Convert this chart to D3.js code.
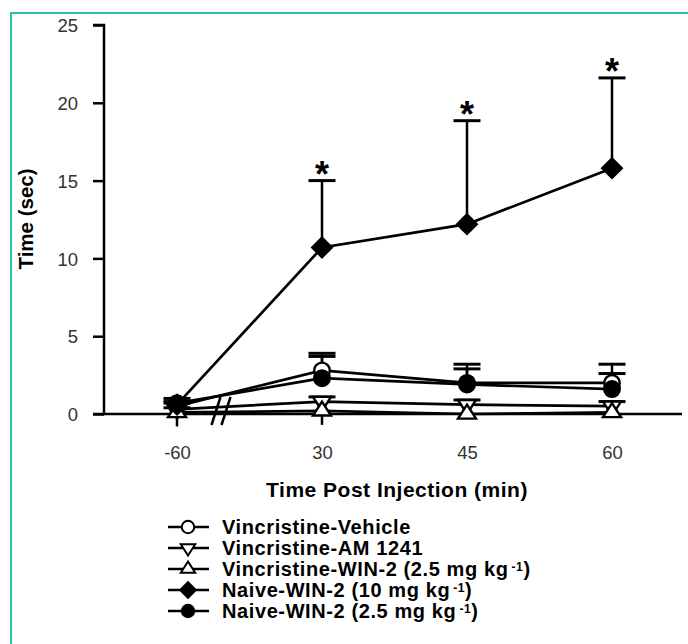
<!DOCTYPE html>
<html><head><meta charset="utf-8">
<script src="https://cdn.jsdelivr.net/npm/d3@7"></script>
<style>body{margin:0;background:#fff}svg{display:block;font-family:"Liberation Sans",Arial,sans-serif}</style>
</head><body>
<svg id="c" width="688" height="644"></svg>
<script>
const categories = ["-60", "30", "45", "60"];
const yTicks = [0, 5, 10, 15, 20, 25];
const seriesNames = ["Vincristine-Vehicle", "Vincristine-AM 1241", "Vincristine-WIN-2 (2.5 mg kg", "Naive-WIN-2 (10 mg kg", "Naive-WIN-2 (2.5 mg kg"];
const superscripts = ["", "", "-1", "-1", "-1"];
const vehicle = [0.5, 2.8, 2.0, 2.0];
const vehicleErr = [0.2, 1.1, 1.2, 1.2];
const am1241 = [0.3, 0.8, 0.6, 0.5];
const am1241Err = [0.1, 0.3, 0.3, 0.3];
const win25Vinc = [0.1, 0.2, 0.0, 0.1];
const win25VincErr = [-0.9, -0.9, 0.0, -0.3];
const naive10 = [0.6, 10.7, 12.2, 15.8];
const naive10Err = [0.2, 4.3, 6.65, 5.8];
const naive25 = [0.7, 2.3, 1.9, 1.6];
const naive25Err = [0.3, 1.4, 1.0, 1.0];
const significant = [false, true, true, true];

const svg = d3.select("#c");
svg.append("rect").attr("x", 11).attr("y", 13).attr("width", 700).attr("height", 700)
  .attr("fill", "none").attr("stroke", "#2fbfa8").attr("stroke-width", 2);

const x = d3.scalePoint().domain(categories).range([177, 612]);
const y = d3.scaleLinear().domain([0, 25]).range([414, 25]);

// y axis
const ya = svg.append("g").attr("transform", "translate(104,0)")
  .call(d3.axisLeft(y).tickValues(yTicks).tickSize(11).tickPadding(15));
ya.select(".domain").attr("stroke-width", 2.5).attr("d", `M-11,${y(25)}H0V${y(0)}`);
ya.selectAll(".tick line").attr("stroke-width", 2.5);
ya.selectAll(".tick text").attr("font-size", 18.5).attr("fill", "#333").attr("font-family", "Liberation Sans, Arial").attr("dy", "0.36em");

// x axis
const xa = svg.append("g").attr("transform", `translate(0,${y(0)})`)
  .call(d3.axisBottom(x).tickSize(0).tickPadding(32));
xa.select(".domain").attr("stroke-width", 2.5).attr("d", "M93,0H682");
xa.selectAll(".tick text").attr("font-size", 18.5).attr("fill", "#333").attr("font-family", "Liberation Sans, Arial");

// axis titles
svg.append("text").attr("x", 397).attr("y", 497).attr("text-anchor", "middle")
  .attr("font-size", 21).attr("letter-spacing", 0.5).attr("font-weight", "bold").text("Time Post Injection (min)");
svg.append("text").attr("transform", "translate(33,219) rotate(-90)").attr("text-anchor", "middle")
  .attr("font-size", 20.5).attr("font-weight", "bold").text("Time (sec)");

const series = [
  {vals: vehicle, err: vehicleErr, sym: "circle", fill: "#fff"},
  {vals: am1241, err: am1241Err, sym: "down", fill: "#fff"},
  {vals: win25Vinc, err: win25VincErr, sym: "up", fill: "#fff"},
  {vals: naive10, err: naive10Err, sym: "diamond", fill: "#000"},
  {vals: naive25, err: naive25Err, sym: "circle", fill: "#000"}
];

function symPath(s, k) {
  if (s === "circle") return d3.symbol(d3.symbolCircle, 190 * k * k)();
  if (s === "up" || s === "down") {
    const w = 9 * k, h = 14 * k;
    return `M0,${-h * 2 / 3}L${w},${h / 3}L${-w},${h / 3}Z`;
  }
  return d3.symbol(d3.symbolSquare, 190 * k * k)();
}
function symRot(s) { return s === "down" ? 180 : (s === "diamond" ? 45 : 0); }

const line = d3.line().x((d, i) => x(categories[i])).y(d => y(d));

series.forEach(s => {
  svg.append("path").attr("d", line(s.vals)).attr("fill", "none")
    .attr("stroke", "#000").attr("stroke-width", 2.7);
});
series.forEach(s => {
  s.vals.forEach((v, i) => {
    if (!s.err[i]) return;
    const cx = x(categories[i]);
    const top = y(v + s.err[i]);
    svg.append("line").attr("x1", cx).attr("x2", cx).attr("y1", y(v)).attr("y2", top)
      .attr("stroke", "#000").attr("stroke-width", 2.5);
    if (s.err[i] > 0) {
      svg.append("line").attr("x1", cx - 13.5).attr("x2", cx + 13.5).attr("y1", top).attr("y2", top)
        .attr("stroke", "#000").attr("stroke-width", 3);
    }
  });
});
series.forEach(s => {
  s.vals.forEach((v, i) => {
    svg.append("path").attr("d", symPath(s.sym, 1))
      .attr("transform", `translate(${x(categories[i])},${y(v)}) rotate(${symRot(s.sym)})`)
      .attr("fill", s.fill).attr("stroke", "#000").attr("stroke-width", 2.4);
  });
});
naive10.forEach((v, i) => {
  if (!significant[i]) return;
  svg.append("text").attr("x", x(categories[i])).attr("y", y(v + naive10Err[i]) + 6)
    .attr("text-anchor", "middle").attr("font-size", 36).attr("font-weight", "bold").text("*");
});

// axis break marks
const bx = x(categories[0]) + 0.3 * x.step();
[-5, 5].forEach(o => {
  svg.append("line").attr("x1", bx + o + 5).attr("y1", y(0) - 17).attr("x2", bx + o - 4).attr("y2", y(0) + 11)
    .attr("stroke", "#000").attr("stroke-width", 2.5);
});

// legend
const lg = svg.append("g");
series.forEach((s, i) => {
  const ly = 527 + i * 21;
  lg.append("line").attr("x1", 168).attr("x2", 209).attr("y1", ly).attr("y2", ly)
    .attr("stroke", "#000").attr("stroke-width", 2.5);
  lg.append("path").attr("d", symPath(s.sym, 0.8))
    .attr("transform", `translate(188,${ly}) rotate(${symRot(s.sym)})`)
    .attr("fill", s.fill).attr("stroke", "#000").attr("stroke-width", 2);
  const t = lg.append("text").attr("x", 222).attr("y", ly + 7).attr("font-size", 20)
    .attr("letter-spacing", 0.6).attr("font-weight", "bold");
  t.append("tspan").text(seriesNames[i]);
  if (superscripts[i]) {
    t.append("tspan").attr("dx", 3).attr("dy", -5.5).attr("font-size", 12).text(superscripts[i]);
    t.append("tspan").attr("dy", 5.5).text(")");
  }
});
</script>
</body></html>
